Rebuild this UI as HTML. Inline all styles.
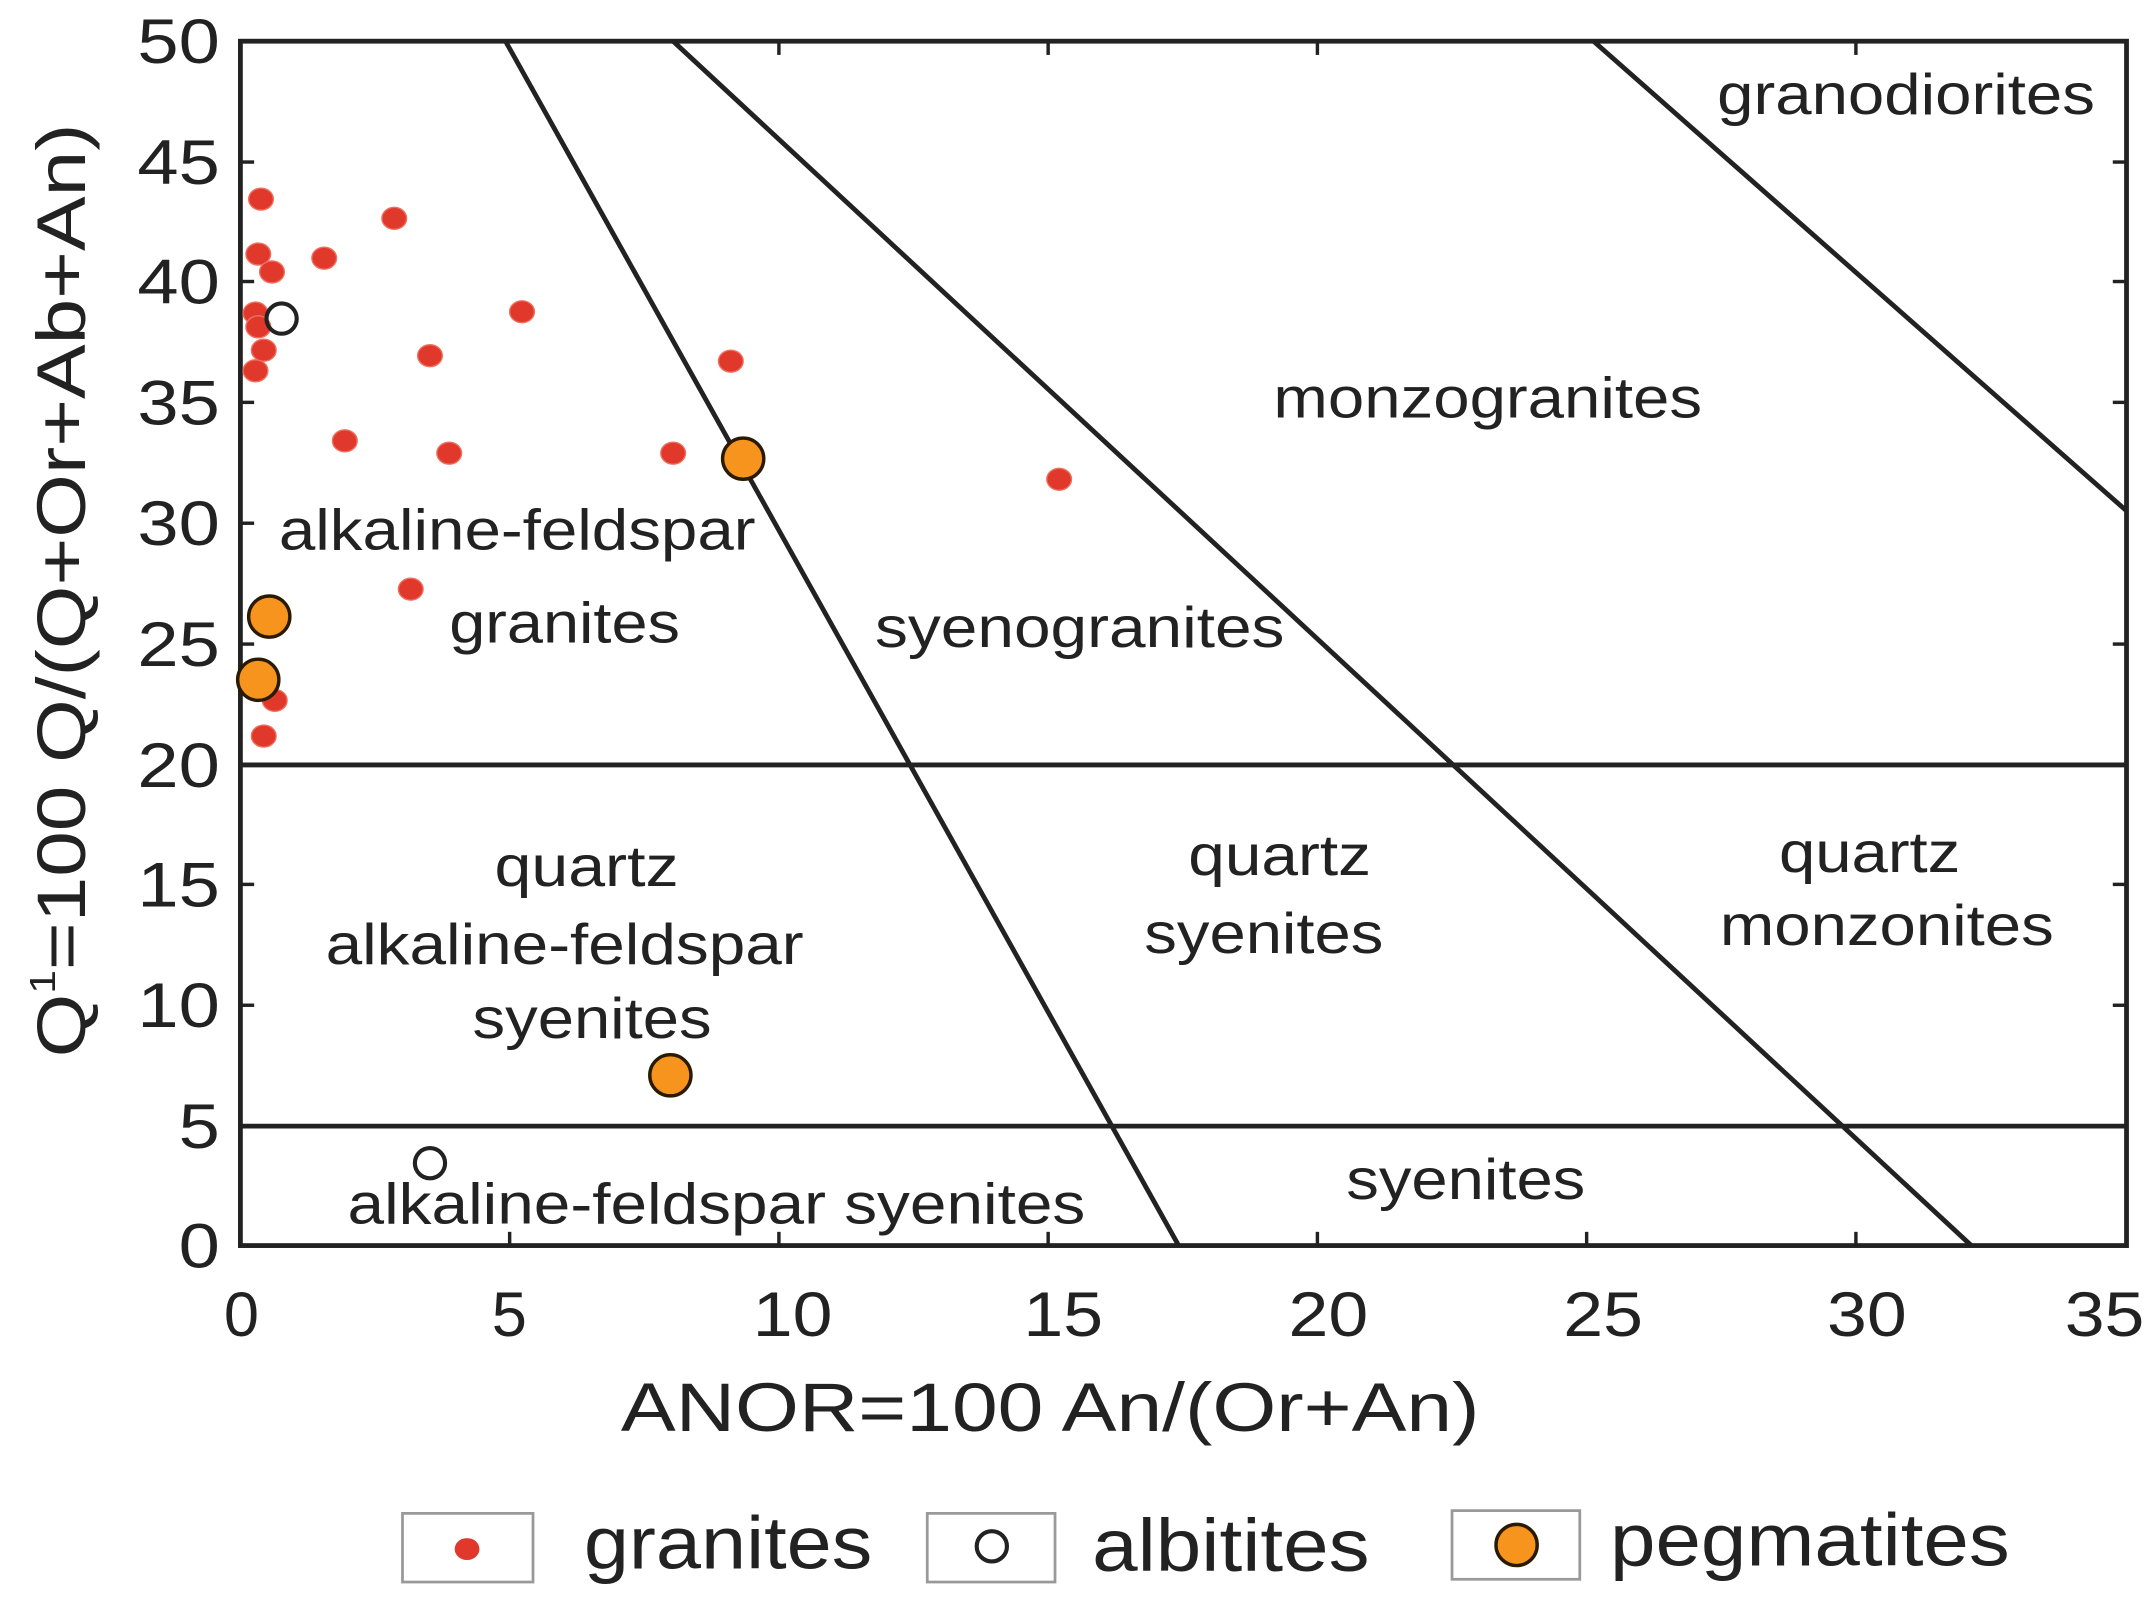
<!DOCTYPE html>
<html><head><style>html,body{margin:0;padding:0;background:#fff}svg{display:block}</style></head>
<body>
<svg width="2154" height="1604" viewBox="0 0 1568 1168" preserveAspectRatio="none" xmlns="http://www.w3.org/2000/svg" font-family="Liberation Sans, sans-serif" fill="#222">
<rect x="0" y="0" width="1568" height="1168" fill="#fff"/>
<g stroke="#222" stroke-width="3.5" fill="none">
<rect x="175" y="30" width="1373" height="877"/>
<line x1="368" y1="30" x2="858" y2="907"/>
<line x1="490" y1="30" x2="1435" y2="907"/>
<line x1="1160" y1="30" x2="1548" y2="372"/>
<line x1="175" y1="557" x2="1548" y2="557"/>
<line x1="175" y1="820" x2="1548" y2="820"/>
</g>
<g stroke="#222" stroke-width="2.5">
<line x1="175" y1="118" x2="185" y2="118"/><line x1="175" y1="205" x2="185" y2="205"/><line x1="175" y1="293" x2="185" y2="293"/><line x1="175" y1="381" x2="185" y2="381"/><line x1="175" y1="469" x2="185" y2="469"/><line x1="175" y1="644" x2="185" y2="644"/><line x1="175" y1="732" x2="185" y2="732"/>
<line x1="1538" y1="118" x2="1548" y2="118"/><line x1="1538" y1="205" x2="1548" y2="205"/><line x1="1538" y1="293" x2="1548" y2="293"/><line x1="1538" y1="469" x2="1548" y2="469"/><line x1="1538" y1="644" x2="1548" y2="644"/><line x1="1538" y1="732" x2="1548" y2="732"/>
<line x1="371" y1="907" x2="371" y2="897"/><line x1="567" y1="907" x2="567" y2="897"/><line x1="763" y1="907" x2="763" y2="897"/><line x1="959" y1="907" x2="959" y2="897"/><line x1="1155" y1="907" x2="1155" y2="897"/><line x1="1351" y1="907" x2="1351" y2="897"/>
<line x1="567" y1="30" x2="567" y2="40"/><line x1="763" y1="30" x2="763" y2="40"/><line x1="959" y1="30" x2="959" y2="40"/><line x1="1351" y1="30" x2="1351" y2="40"/>
</g>
<g font-size="46" text-anchor="end">
<text x="160" y="46" textLength="60" lengthAdjust="spacingAndGlyphs">50</text><text x="160" y="134" textLength="60" lengthAdjust="spacingAndGlyphs">45</text><text x="160" y="221" textLength="60" lengthAdjust="spacingAndGlyphs">40</text><text x="160" y="309" textLength="60" lengthAdjust="spacingAndGlyphs">35</text><text x="160" y="397" textLength="60" lengthAdjust="spacingAndGlyphs">30</text><text x="160" y="485" textLength="60" lengthAdjust="spacingAndGlyphs">25</text><text x="160" y="573" textLength="60" lengthAdjust="spacingAndGlyphs">20</text><text x="160" y="660" textLength="60" lengthAdjust="spacingAndGlyphs">15</text><text x="160" y="748" textLength="60" lengthAdjust="spacingAndGlyphs">10</text><text x="160" y="836" textLength="30" lengthAdjust="spacingAndGlyphs">5</text><text x="160" y="923" textLength="30" lengthAdjust="spacingAndGlyphs">0</text>
</g>
<g font-size="46">
<text x="163" y="973">0</text><text x="358" y="973">5</text><text x="548" y="973" textLength="58" lengthAdjust="spacingAndGlyphs">10</text><text x="745" y="973" textLength="58" lengthAdjust="spacingAndGlyphs">15</text><text x="938" y="973" textLength="58" lengthAdjust="spacingAndGlyphs">20</text><text x="1138" y="973" textLength="58" lengthAdjust="spacingAndGlyphs">25</text><text x="1330" y="973" textLength="58" lengthAdjust="spacingAndGlyphs">30</text><text x="1503" y="973" textLength="58" lengthAdjust="spacingAndGlyphs">35</text>
<text x="452" y="1042" font-size="50" textLength="625" lengthAdjust="spacingAndGlyphs">ANOR=100 An/(Or+An)</text>
<text transform="translate(62,770) rotate(-90)" font-size="50" textLength="680" lengthAdjust="spacingAndGlyphs">Q<tspan font-size="26" dy="-22">1</tspan><tspan dy="22">=100 Q/(Q+Or+Ab+An)</tspan></text>
</g>
<g font-size="42" lengthAdjust="spacingAndGlyphs">
<text x="1250" y="83" textLength="275" lengthAdjust="spacingAndGlyphs">granodiorites</text>
<text x="927" y="304" textLength="312" lengthAdjust="spacingAndGlyphs">monzogranites</text>
<text x="203" y="400" textLength="347" lengthAdjust="spacingAndGlyphs">alkaline-feldspar</text>
<text x="327" y="468" textLength="168" lengthAdjust="spacingAndGlyphs">granites</text>
<text x="637" y="471" textLength="298" lengthAdjust="spacingAndGlyphs">syenogranites</text>
<text x="360" y="645" textLength="134" lengthAdjust="spacingAndGlyphs">quartz</text>
<text x="237" y="702" textLength="348" lengthAdjust="spacingAndGlyphs">alkaline-feldspar</text>
<text x="344" y="756" textLength="174" lengthAdjust="spacingAndGlyphs">syenites</text>
<text x="865" y="637" textLength="133" lengthAdjust="spacingAndGlyphs">quartz</text>
<text x="833" y="694" textLength="174" lengthAdjust="spacingAndGlyphs">syenites</text>
<text x="1295" y="635" textLength="132" lengthAdjust="spacingAndGlyphs">quartz</text>
<text x="1252" y="688" textLength="243" lengthAdjust="spacingAndGlyphs">monzonites</text>
<text x="253" y="891" textLength="537" lengthAdjust="spacingAndGlyphs">alkaline-feldspar syenites</text>
<text x="980" y="873" textLength="174" lengthAdjust="spacingAndGlyphs">syenites</text>
</g>
<g fill="#e0392b" stroke="#f07060" stroke-width="1">
<ellipse cx="190" cy="145" rx="9" ry="8"/><ellipse cx="188" cy="185" rx="9" ry="8"/><ellipse cx="198" cy="198" rx="9" ry="8"/><ellipse cx="236" cy="188" rx="9" ry="8"/><ellipse cx="287" cy="159" rx="9" ry="8"/><ellipse cx="186" cy="228" rx="9" ry="8"/><ellipse cx="188" cy="238" rx="9" ry="8"/><ellipse cx="192" cy="255" rx="9" ry="8"/><ellipse cx="186" cy="270" rx="9" ry="8"/><ellipse cx="380" cy="227" rx="9" ry="8"/><ellipse cx="313" cy="259" rx="9" ry="8"/><ellipse cx="251" cy="321" rx="9" ry="8"/><ellipse cx="327" cy="330" rx="9" ry="8"/><ellipse cx="490" cy="330" rx="9" ry="8"/><ellipse cx="532" cy="263" rx="9" ry="8"/><ellipse cx="771" cy="349" rx="9" ry="8"/><ellipse cx="299" cy="429" rx="9" ry="8"/><ellipse cx="200" cy="510" rx="9" ry="8"/><ellipse cx="192" cy="536" rx="9" ry="8"/>
</g>
<g fill="none" stroke="#222" stroke-width="3">
<circle cx="205" cy="232" r="11"/><circle cx="313" cy="847" r="11"/>
</g>
<g fill="#f7941d" stroke="#2a1a00" stroke-width="2.5">
<circle cx="541" cy="334" r="15"/><circle cx="196" cy="449" r="15"/><circle cx="188" cy="495" r="15"/><circle cx="488" cy="783" r="15"/>
</g>
<g fill="#fff" stroke="#999" stroke-width="2">
<rect x="293" y="1102" width="95" height="50"/><rect x="675" y="1102" width="93" height="50"/><rect x="1057" y="1100" width="93" height="50"/>
</g>
<ellipse cx="340" cy="1128" rx="9" ry="8" fill="#e0392b"/>
<circle cx="722" cy="1126" r="11" fill="none" stroke="#222" stroke-width="3"/>
<circle cx="1104" cy="1125" r="15" fill="#f7941d" stroke="#2a1a00" stroke-width="2.5"/>
<g font-size="54">
<text x="425" y="1142" textLength="210" lengthAdjust="spacingAndGlyphs">granites</text><text x="795" y="1144" textLength="202" lengthAdjust="spacingAndGlyphs">albitites</text><text x="1172" y="1140" textLength="291" lengthAdjust="spacingAndGlyphs">pegmatites</text>
</g>
</svg>
</body></html>
